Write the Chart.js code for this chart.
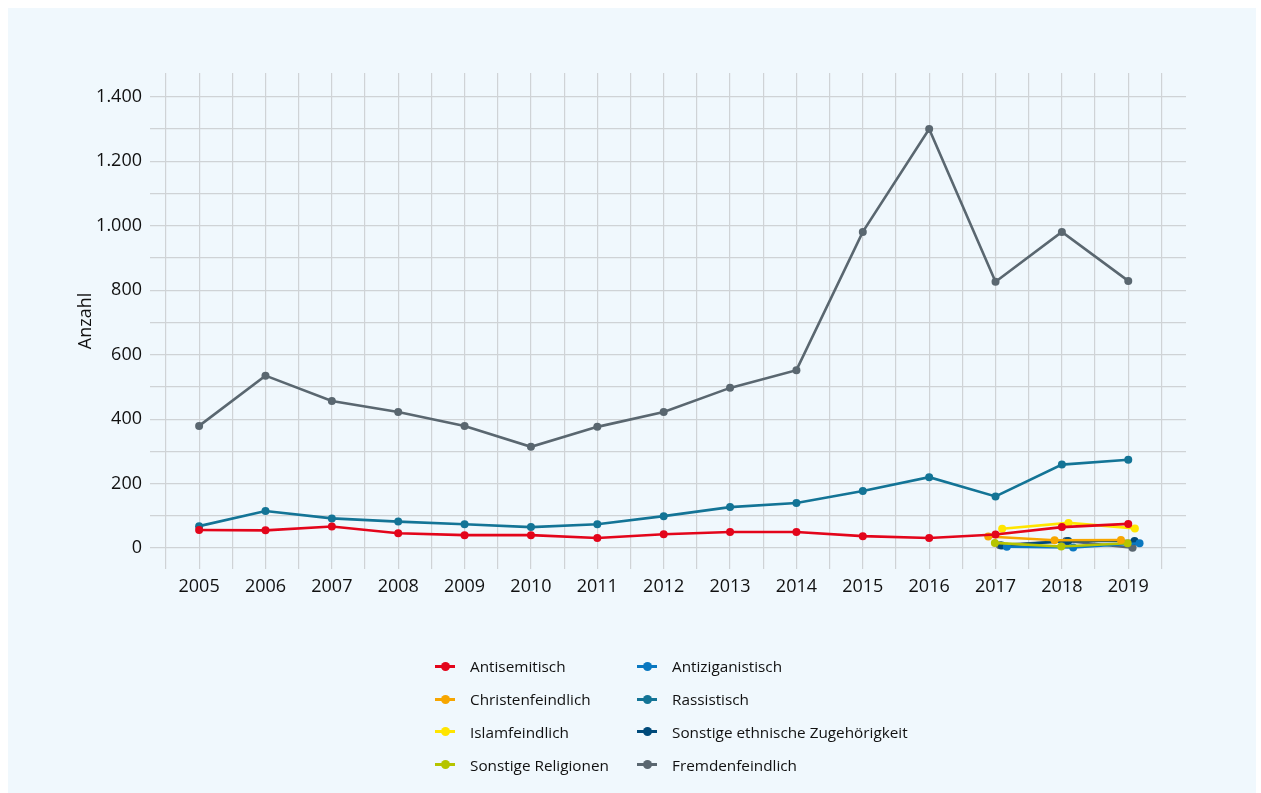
<!DOCTYPE html>
<html lang="de">
<head>
<meta charset="utf-8">
<script src="https://cdn.jsdelivr.net/npm/chart.js@4/dist/chart.umd.min.js"></script>
<style>
  html, body { margin: 0; padding: 0; background: #ffffff; }
  body { width: 1261px; height: 793px; position: relative; overflow: hidden; font-family: "Open Sans", sans-serif; }
  #panel { position: absolute; left: 8px; top: 8px; width: 1248px; height: 785px; background: #f0f8fd; }
  #wrap { position: absolute; left: 0; top: 0; width: 1261px; height: 793px; }
  #legend { position: absolute; left: 432px; top: 650px; display: grid; grid-template-columns: 202px 300px; grid-auto-flow: column; grid-template-rows: repeat(4, 32.8px); }
  .item { display: flex; align-items: center; font-size: 15.3px; color: #111111; white-space: nowrap; }
  .glyph { position: relative; width: 20px; height: 10px; margin-right: 15px; margin-left: 3px; }
  .glyph .ln { position: absolute; left: 0; right: 0; top: 3.5px; height: 3px; }
  .glyph .pt { position: absolute; left: 5.5px; top: 0.5px; width: 9px; height: 9px; border-radius: 50%; }
</style>
</head>
<body>
<div id="panel"></div>
<div id="wrap"><canvas id="c" width="1261" height="793"></canvas></div>
<div id="legend"></div>
<script>
// ---- data ----
const years = [2005, 2006, 2007, 2008, 2009, 2010, 2011, 2012, 2013, 2014, 2015, 2016, 2017, 2018, 2019];
const yearsNew = [2017, 2018, 2019];
const antisemitisch = [56, 55, 67, 46, 40, 40, 31, 43, 50, 50, 37, 31, 42, 65, 75];
const rassistisch = [68, 115, 92, 82, 74, 65, 74, 99, 127, 140, 177, 220, 160, 259, 274];
const fremdenfeindlich = [379, 535, 456, 422, 379, 314, 376, 422, 497, 552, 981, 1300, 826, 981, 829];
const christenfeindlich = [36, 24, 25];
const islamfeindlich = [60, 78, 61];
const sonstigeReligionen = [16, 5, 15];
const antiziganistisch = [4, 2, 15];
const sonstigeEthnisch = [8, 22, 22];
const fremdenfeindlichNeu = [9, 22, 1];
const yTickValues = [0, 200, 400, 600, 800, 1000, 1200, 1400];
const legendLabels = ["Antisemitisch", "Christenfeindlich", "Islamfeindlich", "Sonstige Religionen",
                      "Antiziganistisch", "Rassistisch", "Sonstige ethnische Zugehörigkeit", "Fremdenfeindlich"];

// ---- styles ----
const colors = {
  "Antisemitisch": "#e3051b",
  "Christenfeindlich": "#f7a600",
  "Islamfeindlich": "#ffe500",
  "Sonstige Religionen": "#b5c400",
  "Antiziganistisch": "#0a78c0",
  "Rassistisch": "#137496",
  "Sonstige ethnische Zugehörigkeit": "#004a7a",
  "Fremdenfeindlich": "#5a6770"
};
// small horizontal dodge (in years) of overlapping series, as in the original
const dodge = {
  "Antisemitisch": 0, "Christenfeindlich": -0.11, "Islamfeindlich": 0.1, "Sonstige Religionen": -0.01,
  "Antiziganistisch": 0.17, "Rassistisch": 0, "Sonstige ethnische Zugehörigkeit": 0.095, "Fremdenfeindlich": 0,
  "FremdNeu": 0.065
};

function series(label, xs, ys, key) {
  const k = key || label;
  return {
    label: label,
    data: xs.map((x, i) => ({ x: x + (xs.length === 3 ? dodge[k] : 0), y: ys[i] })),
    borderColor: colors[label],
    backgroundColor: colors[label],
    borderWidth: 2.6,
    pointRadius: 4,
    pointHoverRadius: 4,
    pointBorderWidth: 0,
    tension: 0
  };
}

const datasets = [
  series("Antisemitisch", years, antisemitisch),
  series("Christenfeindlich", yearsNew, christenfeindlich),
  series("Islamfeindlich", yearsNew, islamfeindlich),
  series("Sonstige Religionen", yearsNew, sonstigeReligionen),
  series("Antiziganistisch", yearsNew, antiziganistisch),
  series("Rassistisch", years, rassistisch),
  series("Sonstige ethnische Zugehörigkeit", yearsNew, sonstigeEthnisch),
  series("Fremdenfeindlich", years, fremdenfeindlich),
  series("Fremdenfeindlich", yearsNew, fremdenfeindlichNeu, "FremdNeu")
];

const gridColor = "#cfd3d6";
const tickFont = { family: "'Open Sans', sans-serif", size: 18 };

new Chart(document.getElementById("c"), {
  type: "line",
  data: { datasets: datasets },
  options: {
    responsive: false,
    animation: false,
    events: [],
    layout: { padding: { top: 73, right: 75, left: 75, bottom: 184 } },
    plugins: { legend: { display: false }, tooltip: { enabled: false } },
    scales: {
      x: {
        type: "linear",
        min: 2004.26,
        max: 2019.87,
        afterBuildTicks: (s) => {
          const t = [];
          for (let v = years[0] - 0.5; v <= years[years.length - 1] + 0.5; v += 0.5) t.push({ value: v });
          s.ticks = t;
        },
        afterFit: (s) => { s.height = 40; },
        grid: { color: gridColor, lineWidth: 1.2, drawTicks: false },
        border: { display: false },
        ticks: {
          autoSkip: false, maxRotation: 0, minRotation: 0, padding: 7,
          color: "#111111", font: tickFont,
          callback: (v) => (Number.isInteger(v) ? String(v) : "")
        }
      },
      y: {
        type: "linear",
        min: -65,
        max: 1474,
        afterBuildTicks: (s) => {
          const t = [];
          for (let v = 0; v <= yTickValues[yTickValues.length - 1]; v += 100) t.push({ value: v });
          s.ticks = t;
        },
        afterFit: (s) => { s.width = 75; },
        grid: { color: gridColor, lineWidth: 1.2, drawTicks: false },
        border: { display: false },
        title: { display: true, text: "Anzahl", color: "#111111", font: tickFont, padding: 0 },
        ticks: {
          autoSkip: false, padding: 8, color: "#111111", font: tickFont,
          callback: (v) => (yTickValues.includes(v) ? v.toLocaleString("de-DE") : "")
        }
      }
    }
  }
});

// ---- legend (two columns, column-major) ----
const lg = document.getElementById("legend");
legendLabels.forEach((name) => {
  const it = document.createElement("div");
  it.className = "item";
  it.innerHTML = '<span class="glyph"><span class="ln" style="background:' + colors[name] +
    '"></span><span class="pt" style="background:' + colors[name] + '"></span></span>';
  const tx = document.createElement("span");
  tx.textContent = name;
  it.appendChild(tx);
  lg.appendChild(it);
});
</script>
</body>
</html>
